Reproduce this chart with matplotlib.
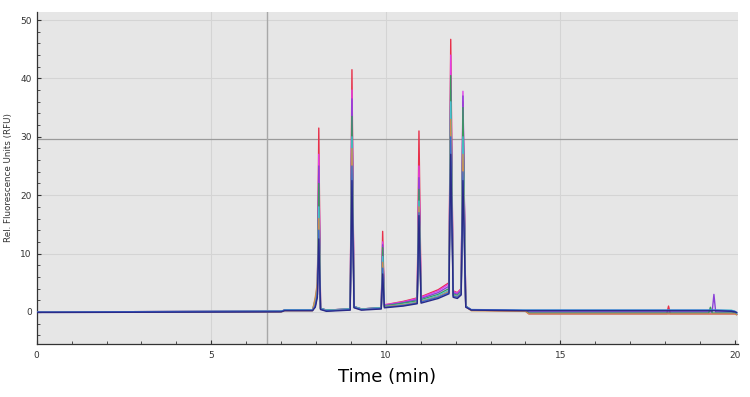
import matplotlib
matplotlib.use("Agg")
import matplotlib.pyplot as plt
from matplotlib.ticker import MultipleLocator

# ─── Data ────────────────────────────────────────────────────────────────────
t = [0.0, 0.5, 7.0, 7.1, 7.9, 7.98, 8.04, 8.08, 8.13, 8.3,
     8.98, 9.03, 9.09, 9.3, 9.87, 9.91, 9.96, 10.5, 10.9, 10.95,
     11.01, 11.5, 11.81, 11.86, 11.93, 12.05, 12.16, 12.21, 12.29, 12.45,
     14.0, 14.1, 18.05, 18.1, 18.15, 19.25, 19.3, 19.35, 19.4, 19.45,
     19.5, 19.9, 20.0, 20.05]

traces = {
    "red":     [0.0, 0.0, 0.1, 0.3, 0.3, 1.2, 3.0, 31.5, 0.6, 0.3,
                0.5, 41.5, 0.9, 0.5, 0.7, 13.8, 1.2, 1.8, 2.4, 31.0,
                2.6, 3.8, 5.0, 46.7, 3.6, 3.3, 4.0, 36.0, 1.0, 0.3,
                0.2, -0.3, -0.3, 1.0, -0.3, -0.3, -0.3, -0.3, -0.3, -0.3,
                -0.3, -0.3, -0.3, -0.4],
    "magenta": [0.0, 0.0, 0.1, 0.3, 0.3, 1.2, 3.0, 27.0, 0.6, 0.3,
                0.5, 38.0, 0.9, 0.5, 0.7, 12.0, 1.2, 1.7, 2.3, 25.0,
                2.5, 3.6, 4.8, 44.0, 3.5, 3.2, 3.9, 37.8, 1.0, 0.3,
                0.2, -0.3, -0.3, -0.3, -0.3, -0.3, -0.3, -0.3, -0.3, -0.3,
                -0.3, -0.3, -0.3, -0.4],
    "purple":  [0.0, 0.0, 0.1, 0.3, 0.3, 1.5, 3.5, 25.0, 0.6, 0.3,
                0.5, 36.5, 0.9, 0.5, 0.7, 11.5, 1.1, 1.6, 2.1, 23.0,
                2.3, 3.3, 4.4, 38.0, 3.3, 3.0, 3.7, 37.0, 1.0, 0.3,
                0.2, 0.0, 0.0, 0.0, 0.0, 0.0, 0.0, 0.0, 3.0, 0.0,
                0.0, 0.0, -0.1, -0.4],
    "green":   [0.0, 0.0, 0.1, 0.3, 0.3, 2.0, 4.0, 22.0, 0.6, 0.3,
                0.5, 33.5, 0.9, 0.5, 0.7, 11.0, 1.0, 1.5, 1.9, 21.0,
                2.1, 3.0, 4.0, 40.5, 3.1, 2.8, 3.5, 35.0, 1.0, 0.3,
                0.2, -0.2, -0.2, -0.2, -0.2, -0.2, 0.8, -0.2, -0.2, -0.2,
                -0.2, -0.2, -0.2, -0.4],
    "cyan":    [0.0, 0.0, 0.1, 0.3, 0.3, 2.2, 4.5, 18.0, 0.6, 0.3,
                0.5, 30.0, 0.9, 0.5, 0.7, 9.5, 0.9, 1.3, 1.7, 19.0,
                1.9, 2.8, 3.7, 36.0, 2.9, 2.7, 3.3, 30.0, 1.0, 0.3,
                0.3, 0.3, 0.3, 0.3, 0.3, 0.3, 0.3, 0.3, 0.3, 0.3,
                0.3, 0.3, 0.1, -0.2],
    "orange":  [0.0, 0.0, 0.0, 0.2, 0.2, 2.5, 5.0, 16.0, 0.5, 0.2,
                0.4, 28.0, 0.8, 0.4, 0.6, 8.5, 0.9, 1.2, 1.6, 18.0,
                1.8, 2.6, 3.5, 33.0, 2.8, 2.6, 3.2, 27.0, 0.9, 0.2,
                0.1, -0.35, -0.35, -0.35, -0.35, -0.35, -0.35, -0.35, -0.35, -0.35,
                -0.35, -0.35, -0.35, -0.5],
    "blue":    [0.0, 0.0, 0.1, 0.3, 0.3, 1.0, 3.0, 14.0, 0.5, 0.2,
                0.4, 25.0, 0.8, 0.4, 0.6, 7.5, 0.8, 1.1, 1.5, 17.0,
                1.7, 2.5, 3.3, 30.0, 2.7, 2.5, 3.1, 24.0, 0.9, 0.4,
                0.3, 0.3, 0.3, 0.3, 0.3, 0.3, 0.3, 0.3, 0.3, 0.3,
                0.3, 0.2, 0.1, -0.1],
    "navy":    [-0.1, -0.1, 0.0, 0.2, 0.2, 0.8, 2.5, 12.5, 0.4, 0.1,
                0.3, 22.5, 0.7, 0.3, 0.5, 6.5, 0.7, 1.0, 1.4, 16.5,
                1.5, 2.3, 3.1, 27.0, 2.5, 2.3, 2.9, 22.5, 0.8, 0.3,
                0.2, 0.2, 0.2, 0.2, 0.2, 0.2, 0.2, 0.2, 0.2, 0.2,
                0.2, 0.1, 0.0, -0.1],
}

colors = {
    "red": "#e8304a", "magenta": "#e040e8", "purple": "#8a40d8",
    "green": "#3a9a5e", "cyan": "#48c0d0", "orange": "#d08a50",
    "blue": "#3a6ad0", "navy": "#2a2a88",
}

# ─── Figure ───────────────────────────────────────────────────────────────────
fig = plt.figure(figsize=(7.5, 3.97), dpi=100)
ax = fig.add_axes([0.049, 0.1335, 0.935, 0.8365])
ax.set_facecolor("#e6e6e6")

for v in [5, 10, 15]:
    ax.axvline(v, color="#d4d4d4", linewidth=0.8, zorder=1)
for h in [0, 10, 20, 40, 50]:
    ax.axhline(h, color="#d4d4d4", linewidth=0.8, zorder=1)
ax.axhline(29.6, color="#9a9a9a", linewidth=0.9, zorder=1)
ax.axvline(6.59, color="#a8a8a8", linewidth=1.0, zorder=1)

for name, ys in traces.items():
    ax.plot(t, ys, color=colors[name], linewidth=1.0, zorder=3)

ax.set_xlim(0, 20.09)
ax.set_ylim(-5.5, 51.4)
ax.xaxis.set_major_locator(MultipleLocator(5))
ax.xaxis.set_minor_locator(MultipleLocator(1))
ax.yaxis.set_major_locator(MultipleLocator(10))
ax.yaxis.set_minor_locator(MultipleLocator(2))
ax.tick_params(which="both", direction="in", labelsize=6.5, colors="#333333")
ax.tick_params(which="major", length=3, width=0.8)
ax.tick_params(which="minor", length=2, width=0.6)
ax.tick_params(axis="x", pad=5)

for s in ["top", "right"]:
    ax.spines[s].set_visible(False)
for s in ["left", "bottom"]:
    ax.spines[s].set_color("#333333")
    ax.spines[s].set_linewidth(0.9)

ax.set_ylabel("Rel. Fluorescence Units (RFU)", fontsize=6.3, color="#333333", labelpad=5)
ax.set_xlabel("Time (min)", fontsize=13, labelpad=6)

plt.savefig("out.png", dpi=100)
plt.close()
